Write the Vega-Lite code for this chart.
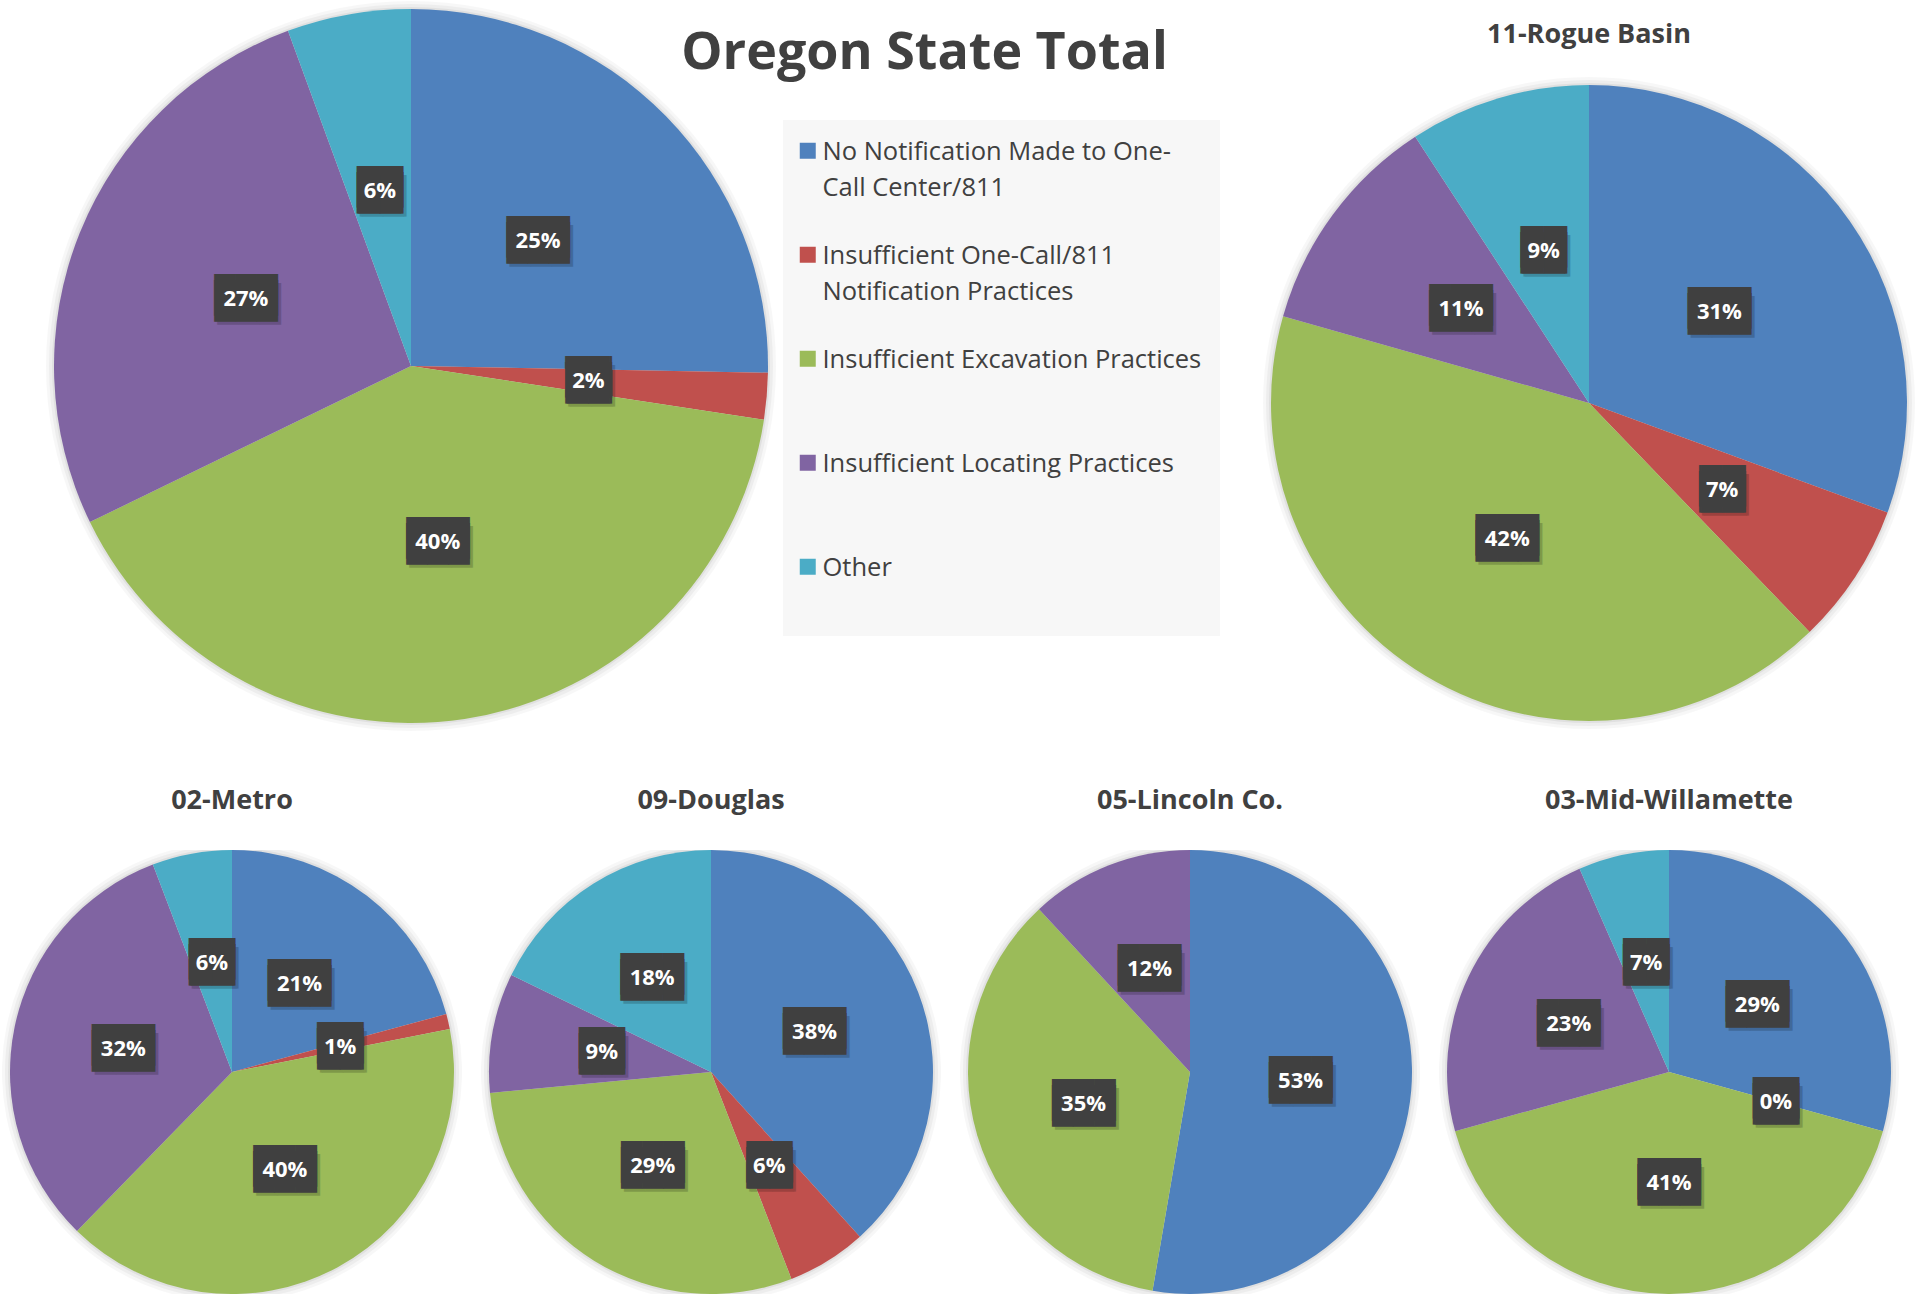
{
  "$schema": "https://vega.github.io/schema/vega-lite/v6.json",
  "padding": {"left": 2, "top": 1, "right": 0, "bottom": 0},
  "background": "white",
  "title": {"text": "Oregon State Total", "frame": "bounds", "anchor": "middle", "baseline": "alphabetic", "offset": -120, "dx": -34, "font": "Open Sans", "fontSize": 52, "fontWeight": "bold", "color": "#404040"},
  "data": {"values": [
    {"region": "Oregon State Total", "code": 1, "cause": "No Notification Made to One-Call Center/811", "pct": 0.253},
    {"region": "Oregon State Total", "code": 2, "cause": "Insufficient One-Call/811 Notification Practices", "pct": 0.021},
    {"region": "Oregon State Total", "code": 3, "cause": "Insufficient Excavation Practices", "pct": 0.404},
    {"region": "Oregon State Total", "code": 4, "cause": "Insufficient Locating Practices", "pct": 0.266},
    {"region": "Oregon State Total", "code": 5, "cause": "Other", "pct": 0.056},
    {"region": "11-Rogue Basin", "code": 1, "cause": "No Notification Made to One-Call Center/811", "pct": 0.306},
    {"region": "11-Rogue Basin", "code": 2, "cause": "Insufficient One-Call/811 Notification Practices", "pct": 0.072},
    {"region": "11-Rogue Basin", "code": 3, "cause": "Insufficient Excavation Practices", "pct": 0.416},
    {"region": "11-Rogue Basin", "code": 4, "cause": "Insufficient Locating Practices", "pct": 0.114},
    {"region": "11-Rogue Basin", "code": 5, "cause": "Other", "pct": 0.092},
    {"region": "02-Metro", "code": 1, "cause": "No Notification Made to One-Call Center/811", "pct": 0.208},
    {"region": "02-Metro", "code": 2, "cause": "Insufficient One-Call/811 Notification Practices", "pct": 0.011},
    {"region": "02-Metro", "code": 3, "cause": "Insufficient Excavation Practices", "pct": 0.404},
    {"region": "02-Metro", "code": 4, "cause": "Insufficient Locating Practices", "pct": 0.319},
    {"region": "02-Metro", "code": 5, "cause": "Other", "pct": 0.058},
    {"region": "09-Douglas", "code": 1, "cause": "No Notification Made to One-Call Center/811", "pct": 0.383},
    {"region": "09-Douglas", "code": 2, "cause": "Insufficient One-Call/811 Notification Practices", "pct": 0.058},
    {"region": "09-Douglas", "code": 3, "cause": "Insufficient Excavation Practices", "pct": 0.294},
    {"region": "09-Douglas", "code": 4, "cause": "Insufficient Locating Practices", "pct": 0.087},
    {"region": "09-Douglas", "code": 5, "cause": "Other", "pct": 0.178},
    {"region": "05-Lincoln Co.", "code": 1, "cause": "No Notification Made to One-Call Center/811", "pct": 0.527},
    {"region": "05-Lincoln Co.", "code": 3, "cause": "Insufficient Excavation Practices", "pct": 0.354},
    {"region": "05-Lincoln Co.", "code": 4, "cause": "Insufficient Locating Practices", "pct": 0.119},
    {"region": "03-Mid-Willamette", "code": 1, "cause": "No Notification Made to One-Call Center/811", "pct": 0.293},
    {"region": "03-Mid-Willamette", "code": 2, "cause": "Insufficient One-Call/811 Notification Practices", "pct": 0.0},
    {"region": "03-Mid-Willamette", "code": 3, "cause": "Insufficient Excavation Practices", "pct": 0.414},
    {"region": "03-Mid-Willamette", "code": 4, "cause": "Insufficient Locating Practices", "pct": 0.227},
    {"region": "03-Mid-Willamette", "code": 5, "cause": "Other", "pct": 0.066}
  ]},
  "config": {
    "view": {"stroke": null},
    "legend": {
      "orient": "none", "legendX": 781, "legendY": 35, "fillColor": "#f7f7f7", "padding": 18,
      "symbolType": "square", "symbolSize": 256, "symbolStrokeWidth": 0, "symbolOpacity": 1, "symbolOffset": -6,
      "labelFont": "Open Sans", "labelFontSize": 25.5, "labelColor": "#404040", "labelOffset": 2, "labelLimit": 0,
      "labelBaseline": "alphabetic", "rowPadding": 40, "gridAlign": "all"
    }
  },
  "spacing": 56,
  "vconcat": [
    {
      "bounds": "flush",
      "spacing": 451,
      "hconcat": [
        {
          "width": 818, "height": 562,
          "transform": [{"filter": "datum.region == 'Oregon State Total'"}],
          "encoding": {
            "theta": {"field": "pct", "type": "quantitative", "stack": true},
            "order": {"field": "code", "type": "quantitative"},
            "color": {"field": "cause", "type": "nominal",
              "scale": {"domain": ["No Notification Made to One-Call Center/811", "Insufficient One-Call/811 Notification Practices", "Insufficient Excavation Practices", "Insufficient Locating Practices", "Other"], "range": ["#4F81BD", "#C0504D", "#9BBB59", "#8064A2", "#4BACC6"]},
              "legend": {"title": null, "labelExpr": "datum.label == 'No Notification Made to One-Call Center/811' ? ['No Notification Made to One-', 'Call Center/811'] : datum.label == 'Insufficient One-Call/811 Notification Practices' ? ['Insufficient One-Call/811', 'Notification Practices'] : [datum.label, '']", "encode": {"labels": {"update": {"dy": {"value": 9}, "lineHeight": {"value": 36}}}}}}
          },
          "layer": [
            {"transform": [{"filter": "datum.code == 1"}], "mark": {"type": "arc", "outerRadius": 365, "opacity": 0.03}, "encoding": {"theta": {"value": 0}, "theta2": {"value": 6.2832}, "color": {"value": "#000000"}}},
            {"transform": [{"filter": "datum.code == 1"}], "mark": {"type": "arc", "outerRadius": 362, "opacity": 0.04}, "encoding": {"theta": {"value": 0}, "theta2": {"value": 6.2832}, "color": {"value": "#000000"}}},
            {"transform": [{"filter": "datum.code == 1"}], "mark": {"type": "arc", "outerRadius": 359, "opacity": 0.05}, "encoding": {"theta": {"value": 0}, "theta2": {"value": 6.2832}, "color": {"value": "#000000"}}},
            {"mark": {"type": "arc", "outerRadius": 357}},
            {"mark": {"type": "text", "radius": 178, "font": "DejaVu Sans Mono", "fontSize": 35, "baseline": "middle", "align": "center", "dx": 3, "dy": 6, "opacity": 0.18},
             "encoding": {"color": {"value": "#000000"}, "detail": {"field": "cause", "type": "nominal"}, "text": {"condition": {"test": "datum.pct >= 0.095", "value": "███"}, "value": "▕██▏"}}},
            {"mark": {"type": "text", "radius": 178, "font": "DejaVu Sans Mono", "fontSize": 35, "baseline": "middle", "align": "center", "dy": -3},
             "encoding": {"color": {"value": "#404040"}, "detail": {"field": "cause", "type": "nominal"}, "text": {"condition": {"test": "datum.pct >= 0.095", "value": "███"}, "value": "▕██▏"}}},
            {"mark": {"type": "text", "radius": 178, "font": "DejaVu Sans Mono", "fontSize": 35, "baseline": "middle", "align": "center", "dy": 3},
             "encoding": {"color": {"value": "#404040"}, "detail": {"field": "cause", "type": "nominal"}, "text": {"condition": {"test": "datum.pct >= 0.095", "value": "███"}, "value": "▕██▏"}}},
            {"mark": {"type": "text", "radius": 178, "font": "Open Sans", "fontWeight": "bold", "fontSize": 22, "baseline": "middle", "align": "center"},
             "encoding": {"color": {"value": "#ffffff"}, "detail": {"field": "cause", "type": "nominal"}, "text": {"field": "pct", "type": "quantitative", "format": ".0%"}}}
          ]
        },
        {
          "width": 636, "height": 636,
          "title": {"text": "11-Rogue Basin", "font": "Open Sans", "fontSize": 27, "fontWeight": "bold", "color": "#404040", "baseline": "alphabetic", "offset": 7, "anchor": "middle"},
          "transform": [{"filter": "datum.region == '11-Rogue Basin'"}],
          "encoding": {
            "theta": {"field": "pct", "type": "quantitative", "stack": true},
            "order": {"field": "code", "type": "quantitative"},
            "color": {"field": "cause", "type": "nominal",
              "scale": {"domain": ["No Notification Made to One-Call Center/811", "Insufficient One-Call/811 Notification Practices", "Insufficient Excavation Practices", "Insufficient Locating Practices", "Other"], "range": ["#4F81BD", "#C0504D", "#9BBB59", "#8064A2", "#4BACC6"]},
              "legend": {"title": null, "labelExpr": "datum.label == 'No Notification Made to One-Call Center/811' ? ['No Notification Made to One-', 'Call Center/811'] : datum.label == 'Insufficient One-Call/811 Notification Practices' ? ['Insufficient One-Call/811', 'Notification Practices'] : [datum.label, '']", "encode": {"labels": {"update": {"dy": {"value": 9}, "lineHeight": {"value": 36}}}}}}
          },
          "layer": [
            {"transform": [{"filter": "datum.code == 1"}], "mark": {"type": "arc", "outerRadius": 326, "opacity": 0.03}, "encoding": {"theta": {"value": 0}, "theta2": {"value": 6.2832}, "color": {"value": "#000000"}}},
            {"transform": [{"filter": "datum.code == 1"}], "mark": {"type": "arc", "outerRadius": 323, "opacity": 0.04}, "encoding": {"theta": {"value": 0}, "theta2": {"value": 6.2832}, "color": {"value": "#000000"}}},
            {"transform": [{"filter": "datum.code == 1"}], "mark": {"type": "arc", "outerRadius": 320, "opacity": 0.05}, "encoding": {"theta": {"value": 0}, "theta2": {"value": 6.2832}, "color": {"value": "#000000"}}},
            {"mark": {"type": "arc", "outerRadius": 318}},
            {"mark": {"type": "text", "radius": 159, "font": "DejaVu Sans Mono", "fontSize": 35, "baseline": "middle", "align": "center", "dx": 3, "dy": 6, "opacity": 0.18},
             "encoding": {"color": {"value": "#000000"}, "detail": {"field": "cause", "type": "nominal"}, "text": {"condition": {"test": "datum.pct >= 0.095", "value": "███"}, "value": "▕██▏"}}},
            {"mark": {"type": "text", "radius": 159, "font": "DejaVu Sans Mono", "fontSize": 35, "baseline": "middle", "align": "center", "dy": -3},
             "encoding": {"color": {"value": "#404040"}, "detail": {"field": "cause", "type": "nominal"}, "text": {"condition": {"test": "datum.pct >= 0.095", "value": "███"}, "value": "▕██▏"}}},
            {"mark": {"type": "text", "radius": 159, "font": "DejaVu Sans Mono", "fontSize": 35, "baseline": "middle", "align": "center", "dy": 3},
             "encoding": {"color": {"value": "#404040"}, "detail": {"field": "cause", "type": "nominal"}, "text": {"condition": {"test": "datum.pct >= 0.095", "value": "███"}, "value": "▕██▏"}}},
            {"mark": {"type": "text", "radius": 159, "font": "Open Sans", "fontWeight": "bold", "fontSize": 22, "baseline": "middle", "align": "center"},
             "encoding": {"color": {"value": "#ffffff"}, "detail": {"field": "cause", "type": "nominal"}, "text": {"field": "pct", "type": "quantitative", "format": ".0%"}}}
          ]
        }
      ]
    },
    {
      "bounds": "flush",
      "spacing": 19,
      "hconcat": [
        {
          "width": 460, "height": 444,
          "title": {"text": "02-Metro", "font": "Open Sans", "fontSize": 27, "fontWeight": "bold", "color": "#404040", "baseline": "alphabetic", "offset": 14, "anchor": "middle"},
          "transform": [{"filter": "datum.region == '02-Metro'"}],
          "encoding": {
            "theta": {"field": "pct", "type": "quantitative", "stack": true},
            "order": {"field": "code", "type": "quantitative"},
            "color": {"field": "cause", "type": "nominal",
              "scale": {"domain": ["No Notification Made to One-Call Center/811", "Insufficient One-Call/811 Notification Practices", "Insufficient Excavation Practices", "Insufficient Locating Practices", "Other"], "range": ["#4F81BD", "#C0504D", "#9BBB59", "#8064A2", "#4BACC6"]},
              "legend": {"title": null, "labelExpr": "datum.label == 'No Notification Made to One-Call Center/811' ? ['No Notification Made to One-', 'Call Center/811'] : datum.label == 'Insufficient One-Call/811 Notification Practices' ? ['Insufficient One-Call/811', 'Notification Practices'] : [datum.label, '']", "encode": {"labels": {"update": {"dy": {"value": 9}, "lineHeight": {"value": 36}}}}}}
          },
          "layer": [
            {"transform": [{"filter": "datum.code == 1"}], "mark": {"type": "arc", "outerRadius": 230, "opacity": 0.03, "clip": true}, "encoding": {"theta": {"value": 0}, "theta2": {"value": 6.2832}, "color": {"value": "#000000"}}},
            {"transform": [{"filter": "datum.code == 1"}], "mark": {"type": "arc", "outerRadius": 227, "opacity": 0.04, "clip": true}, "encoding": {"theta": {"value": 0}, "theta2": {"value": 6.2832}, "color": {"value": "#000000"}}},
            {"transform": [{"filter": "datum.code == 1"}], "mark": {"type": "arc", "outerRadius": 224, "opacity": 0.05, "clip": true}, "encoding": {"theta": {"value": 0}, "theta2": {"value": 6.2832}, "color": {"value": "#000000"}}},
            {"mark": {"type": "arc", "outerRadius": 222}},
            {"mark": {"type": "text", "radius": 111, "font": "DejaVu Sans Mono", "fontSize": 35, "baseline": "middle", "align": "center", "dx": 3, "dy": 6, "opacity": 0.18},
             "encoding": {"color": {"value": "#000000"}, "detail": {"field": "cause", "type": "nominal"}, "text": {"condition": {"test": "datum.pct >= 0.095", "value": "███"}, "value": "▕██▏"}}},
            {"mark": {"type": "text", "radius": 111, "font": "DejaVu Sans Mono", "fontSize": 35, "baseline": "middle", "align": "center", "dy": -3},
             "encoding": {"color": {"value": "#404040"}, "detail": {"field": "cause", "type": "nominal"}, "text": {"condition": {"test": "datum.pct >= 0.095", "value": "███"}, "value": "▕██▏"}}},
            {"mark": {"type": "text", "radius": 111, "font": "DejaVu Sans Mono", "fontSize": 35, "baseline": "middle", "align": "center", "dy": 3},
             "encoding": {"color": {"value": "#404040"}, "detail": {"field": "cause", "type": "nominal"}, "text": {"condition": {"test": "datum.pct >= 0.095", "value": "███"}, "value": "▕██▏"}}},
            {"mark": {"type": "text", "radius": 111, "font": "Open Sans", "fontWeight": "bold", "fontSize": 22, "baseline": "middle", "align": "center"},
             "encoding": {"color": {"value": "#ffffff"}, "detail": {"field": "cause", "type": "nominal"}, "text": {"field": "pct", "type": "quantitative", "format": ".0%"}}}
          ]
        },
        {
          "width": 460, "height": 444,
          "title": {"text": "09-Douglas", "font": "Open Sans", "fontSize": 27, "fontWeight": "bold", "color": "#404040", "baseline": "alphabetic", "offset": 14, "anchor": "middle"},
          "transform": [{"filter": "datum.region == '09-Douglas'"}],
          "encoding": {
            "theta": {"field": "pct", "type": "quantitative", "stack": true},
            "order": {"field": "code", "type": "quantitative"},
            "color": {"field": "cause", "type": "nominal",
              "scale": {"domain": ["No Notification Made to One-Call Center/811", "Insufficient One-Call/811 Notification Practices", "Insufficient Excavation Practices", "Insufficient Locating Practices", "Other"], "range": ["#4F81BD", "#C0504D", "#9BBB59", "#8064A2", "#4BACC6"]},
              "legend": {"title": null, "labelExpr": "datum.label == 'No Notification Made to One-Call Center/811' ? ['No Notification Made to One-', 'Call Center/811'] : datum.label == 'Insufficient One-Call/811 Notification Practices' ? ['Insufficient One-Call/811', 'Notification Practices'] : [datum.label, '']", "encode": {"labels": {"update": {"dy": {"value": 9}, "lineHeight": {"value": 36}}}}}}
          },
          "layer": [
            {"transform": [{"filter": "datum.code == 1"}], "mark": {"type": "arc", "outerRadius": 230, "opacity": 0.03, "clip": true}, "encoding": {"theta": {"value": 0}, "theta2": {"value": 6.2832}, "color": {"value": "#000000"}}},
            {"transform": [{"filter": "datum.code == 1"}], "mark": {"type": "arc", "outerRadius": 227, "opacity": 0.04, "clip": true}, "encoding": {"theta": {"value": 0}, "theta2": {"value": 6.2832}, "color": {"value": "#000000"}}},
            {"transform": [{"filter": "datum.code == 1"}], "mark": {"type": "arc", "outerRadius": 224, "opacity": 0.05, "clip": true}, "encoding": {"theta": {"value": 0}, "theta2": {"value": 6.2832}, "color": {"value": "#000000"}}},
            {"mark": {"type": "arc", "outerRadius": 222}},
            {"mark": {"type": "text", "radius": 111, "font": "DejaVu Sans Mono", "fontSize": 35, "baseline": "middle", "align": "center", "dx": 3, "dy": 6, "opacity": 0.18},
             "encoding": {"color": {"value": "#000000"}, "detail": {"field": "cause", "type": "nominal"}, "text": {"condition": {"test": "datum.pct >= 0.095", "value": "███"}, "value": "▕██▏"}}},
            {"mark": {"type": "text", "radius": 111, "font": "DejaVu Sans Mono", "fontSize": 35, "baseline": "middle", "align": "center", "dy": -3},
             "encoding": {"color": {"value": "#404040"}, "detail": {"field": "cause", "type": "nominal"}, "text": {"condition": {"test": "datum.pct >= 0.095", "value": "███"}, "value": "▕██▏"}}},
            {"mark": {"type": "text", "radius": 111, "font": "DejaVu Sans Mono", "fontSize": 35, "baseline": "middle", "align": "center", "dy": 3},
             "encoding": {"color": {"value": "#404040"}, "detail": {"field": "cause", "type": "nominal"}, "text": {"condition": {"test": "datum.pct >= 0.095", "value": "███"}, "value": "▕██▏"}}},
            {"mark": {"type": "text", "radius": 111, "font": "Open Sans", "fontWeight": "bold", "fontSize": 22, "baseline": "middle", "align": "center"},
             "encoding": {"color": {"value": "#ffffff"}, "detail": {"field": "cause", "type": "nominal"}, "text": {"field": "pct", "type": "quantitative", "format": ".0%"}}}
          ]
        },
        {
          "width": 460, "height": 444,
          "title": {"text": "05-Lincoln Co.", "font": "Open Sans", "fontSize": 27, "fontWeight": "bold", "color": "#404040", "baseline": "alphabetic", "offset": 14, "anchor": "middle"},
          "transform": [{"filter": "datum.region == '05-Lincoln Co.'"}],
          "encoding": {
            "theta": {"field": "pct", "type": "quantitative", "stack": true},
            "order": {"field": "code", "type": "quantitative"},
            "color": {"field": "cause", "type": "nominal",
              "scale": {"domain": ["No Notification Made to One-Call Center/811", "Insufficient One-Call/811 Notification Practices", "Insufficient Excavation Practices", "Insufficient Locating Practices", "Other"], "range": ["#4F81BD", "#C0504D", "#9BBB59", "#8064A2", "#4BACC6"]},
              "legend": {"title": null, "labelExpr": "datum.label == 'No Notification Made to One-Call Center/811' ? ['No Notification Made to One-', 'Call Center/811'] : datum.label == 'Insufficient One-Call/811 Notification Practices' ? ['Insufficient One-Call/811', 'Notification Practices'] : [datum.label, '']", "encode": {"labels": {"update": {"dy": {"value": 9}, "lineHeight": {"value": 36}}}}}}
          },
          "layer": [
            {"transform": [{"filter": "datum.code == 1"}], "mark": {"type": "arc", "outerRadius": 230, "opacity": 0.03, "clip": true}, "encoding": {"theta": {"value": 0}, "theta2": {"value": 6.2832}, "color": {"value": "#000000"}}},
            {"transform": [{"filter": "datum.code == 1"}], "mark": {"type": "arc", "outerRadius": 227, "opacity": 0.04, "clip": true}, "encoding": {"theta": {"value": 0}, "theta2": {"value": 6.2832}, "color": {"value": "#000000"}}},
            {"transform": [{"filter": "datum.code == 1"}], "mark": {"type": "arc", "outerRadius": 224, "opacity": 0.05, "clip": true}, "encoding": {"theta": {"value": 0}, "theta2": {"value": 6.2832}, "color": {"value": "#000000"}}},
            {"mark": {"type": "arc", "outerRadius": 222}},
            {"mark": {"type": "text", "radius": 111, "font": "DejaVu Sans Mono", "fontSize": 35, "baseline": "middle", "align": "center", "dx": 3, "dy": 6, "opacity": 0.18},
             "encoding": {"color": {"value": "#000000"}, "detail": {"field": "cause", "type": "nominal"}, "text": {"condition": {"test": "datum.pct >= 0.095", "value": "███"}, "value": "▕██▏"}}},
            {"mark": {"type": "text", "radius": 111, "font": "DejaVu Sans Mono", "fontSize": 35, "baseline": "middle", "align": "center", "dy": -3},
             "encoding": {"color": {"value": "#404040"}, "detail": {"field": "cause", "type": "nominal"}, "text": {"condition": {"test": "datum.pct >= 0.095", "value": "███"}, "value": "▕██▏"}}},
            {"mark": {"type": "text", "radius": 111, "font": "DejaVu Sans Mono", "fontSize": 35, "baseline": "middle", "align": "center", "dy": 3},
             "encoding": {"color": {"value": "#404040"}, "detail": {"field": "cause", "type": "nominal"}, "text": {"condition": {"test": "datum.pct >= 0.095", "value": "███"}, "value": "▕██▏"}}},
            {"mark": {"type": "text", "radius": 111, "font": "Open Sans", "fontWeight": "bold", "fontSize": 22, "baseline": "middle", "align": "center"},
             "encoding": {"color": {"value": "#ffffff"}, "detail": {"field": "cause", "type": "nominal"}, "text": {"field": "pct", "type": "quantitative", "format": ".0%"}}}
          ]
        },
        {
          "width": 460, "height": 444,
          "title": {"text": "03-Mid-Willamette", "font": "Open Sans", "fontSize": 27, "fontWeight": "bold", "color": "#404040", "baseline": "alphabetic", "offset": 14, "anchor": "middle"},
          "transform": [{"filter": "datum.region == '03-Mid-Willamette'"}],
          "encoding": {
            "theta": {"field": "pct", "type": "quantitative", "stack": true},
            "order": {"field": "code", "type": "quantitative"},
            "color": {"field": "cause", "type": "nominal",
              "scale": {"domain": ["No Notification Made to One-Call Center/811", "Insufficient One-Call/811 Notification Practices", "Insufficient Excavation Practices", "Insufficient Locating Practices", "Other"], "range": ["#4F81BD", "#C0504D", "#9BBB59", "#8064A2", "#4BACC6"]},
              "legend": {"title": null, "labelExpr": "datum.label == 'No Notification Made to One-Call Center/811' ? ['No Notification Made to One-', 'Call Center/811'] : datum.label == 'Insufficient One-Call/811 Notification Practices' ? ['Insufficient One-Call/811', 'Notification Practices'] : [datum.label, '']", "encode": {"labels": {"update": {"dy": {"value": 9}, "lineHeight": {"value": 36}}}}}}
          },
          "layer": [
            {"transform": [{"filter": "datum.code == 1"}], "mark": {"type": "arc", "outerRadius": 230, "opacity": 0.03, "clip": true}, "encoding": {"theta": {"value": 0}, "theta2": {"value": 6.2832}, "color": {"value": "#000000"}}},
            {"transform": [{"filter": "datum.code == 1"}], "mark": {"type": "arc", "outerRadius": 227, "opacity": 0.04, "clip": true}, "encoding": {"theta": {"value": 0}, "theta2": {"value": 6.2832}, "color": {"value": "#000000"}}},
            {"transform": [{"filter": "datum.code == 1"}], "mark": {"type": "arc", "outerRadius": 224, "opacity": 0.05, "clip": true}, "encoding": {"theta": {"value": 0}, "theta2": {"value": 6.2832}, "color": {"value": "#000000"}}},
            {"mark": {"type": "arc", "outerRadius": 222}},
            {"mark": {"type": "text", "radius": 111, "font": "DejaVu Sans Mono", "fontSize": 35, "baseline": "middle", "align": "center", "dx": 3, "dy": 6, "opacity": 0.18},
             "encoding": {"color": {"value": "#000000"}, "detail": {"field": "cause", "type": "nominal"}, "text": {"condition": {"test": "datum.pct >= 0.095", "value": "███"}, "value": "▕██▏"}}},
            {"mark": {"type": "text", "radius": 111, "font": "DejaVu Sans Mono", "fontSize": 35, "baseline": "middle", "align": "center", "dy": -3},
             "encoding": {"color": {"value": "#404040"}, "detail": {"field": "cause", "type": "nominal"}, "text": {"condition": {"test": "datum.pct >= 0.095", "value": "███"}, "value": "▕██▏"}}},
            {"mark": {"type": "text", "radius": 111, "font": "DejaVu Sans Mono", "fontSize": 35, "baseline": "middle", "align": "center", "dy": 3},
             "encoding": {"color": {"value": "#404040"}, "detail": {"field": "cause", "type": "nominal"}, "text": {"condition": {"test": "datum.pct >= 0.095", "value": "███"}, "value": "▕██▏"}}},
            {"mark": {"type": "text", "radius": 111, "font": "Open Sans", "fontWeight": "bold", "fontSize": 22, "baseline": "middle", "align": "center"},
             "encoding": {"color": {"value": "#ffffff"}, "detail": {"field": "cause", "type": "nominal"}, "text": {"field": "pct", "type": "quantitative", "format": ".0%"}}}
          ]
        }
      ]
    }
  ]
}
